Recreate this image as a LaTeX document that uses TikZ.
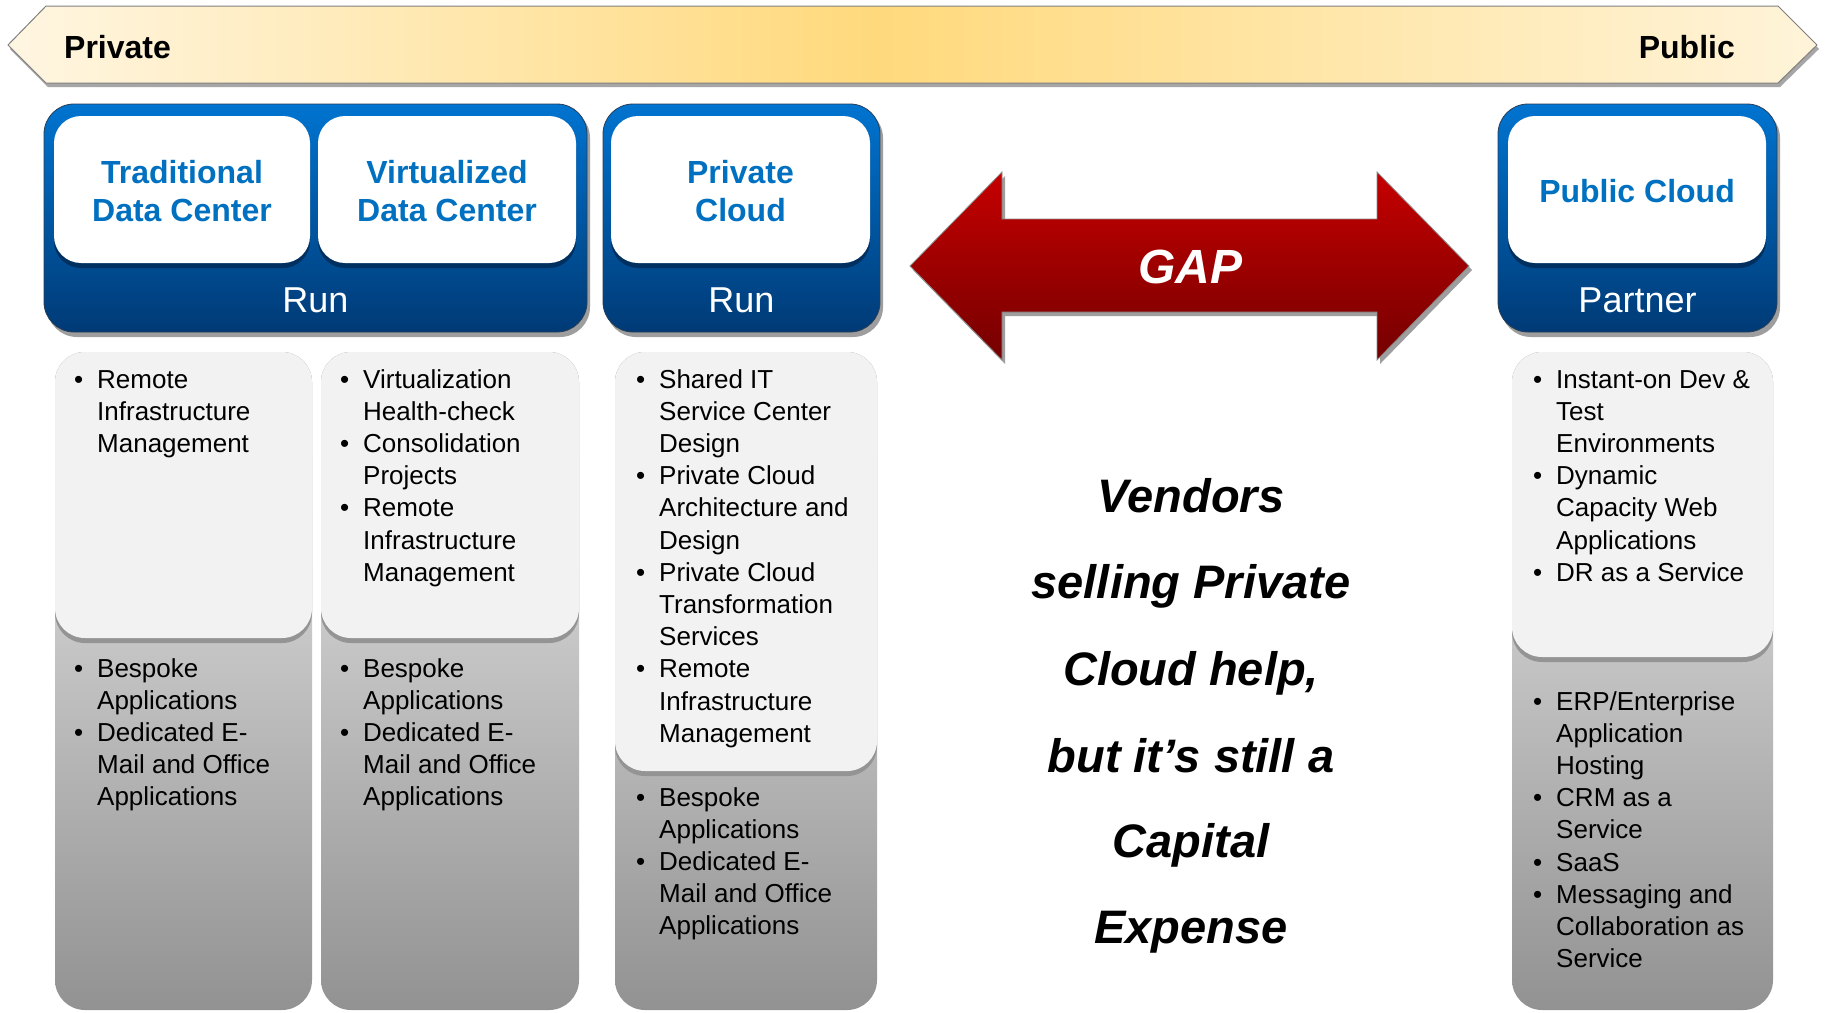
\documentclass[tikz,border=0pt]{standalone}
\usepackage{fontspec}
\setmainfont{Liberation Sans}
\usetikzlibrary{shadings}
\definecolor{bluetop}{HTML}{0074D0}
\definecolor{bluebot}{HTML}{003A76}
\definecolor{blueline}{HTML}{2A3E55}
\definecolor{navyshadow}{HTML}{00305F}
\definecolor{titleblue}{HTML}{0070C0}
\definecolor{panelgrey}{HTML}{F2F2F2}
\definecolor{coltop}{HTML}{EEEEEE}
\definecolor{colbot}{HTML}{929292}
\definecolor{redtop}{HTML}{C60000}
\definecolor{redbot}{HTML}{740000}
\definecolor{bnA}{HTML}{FFF6E2}
\definecolor{bnB}{HTML}{FFD97C}
\definecolor{bnC}{HTML}{FFF4DA}
\pgfdeclarehorizontalshading{bannershade}{100bp}{color(0bp)=(bnA); color(25bp)=(bnA); color(49bp)=(bnB); color(75bp)=(bnC); color(100bp)=(bnC)}
\newenvironment{blist}{\begin{tabular}[t]{@{}p{23pt}@{}l@{}}}{\end{tabular}}
\tikzset{
  shadowshape/.style={fill=black!38},
  bluebox/.style={shade, top color=bluetop, bottom color=bluebot, draw=blueline, line width=0.8pt, rounded corners=30pt},
  whitebox/.style={fill=white, rounded corners=27pt},
  whiteshadow/.style={fill=navyshadow, rounded corners=27pt},
  column/.style={shade, top color=coltop, bottom color=colbot, rounded corners=30pt},
  panelshadow/.style={fill=black!42, rounded corners=30pt},
  panel/.style={fill=panelgrey, rounded corners=30pt},
  title/.style={font=\fontsize{32}{38}\selectfont\bfseries, text=titleblue, inner sep=0pt, anchor=base},
  runlabel/.style={font=\fontsize{36}{40}\selectfont, text=white, inner sep=0pt, anchor=base},
  bannertext/.style={font=\fontsize{32}{38}\selectfont\bfseries, text=black, inner sep=0pt},
  listtext/.style={font=\fontsize{26}{32.2}\selectfont, text=black, inner sep=0pt, anchor=base west},
  bigtext/.style={font=\fontsize{47}{56}\selectfont\bfseries\itshape, text=black, inner sep=0pt, anchor=base}
}
\begin{document}
\begin{tikzpicture}[x=1pt,y=-1pt]
\path[use as bounding box, fill=white] (0,0) rectangle (1827,1012);

% banner
\fill[black!35] (10,49) -- (48,10) -- (1780,10) -- (1819,49) -- (1780,87) -- (48,87) -- cycle;
\path[shade, shading=bannershade, draw=black!50, line width=1pt] (8,45) -- (46,6) -- (1778,6) -- (1817,45) -- (1778,83) -- (46,83) -- cycle;
\node[bannertext, anchor=base west] (private) at (64,58) {Private};
\node[bannertext, anchor=base east] (public) at (1735,58) {Public};

% blue boxes
\fill[shadowshape, rounded corners=30pt] (47,108) rectangle (590,337);
\fill[shadowshape, rounded corners=30pt] (606,108) rectangle (883,337);
\fill[shadowshape, rounded corners=30pt] (1501,108) rectangle (1780,337);
\path[bluebox] (44,104) rectangle (587,332);
\path[bluebox] (603,104) rectangle (880,332);
\path[bluebox] (1498,104) rectangle (1777,332);

\fill[whiteshadow] (54,120) rectangle (310,268);
\fill[whiteshadow] (318,120) rectangle (576,268);
\fill[whiteshadow] (611,120) rectangle (870,268);
\fill[whiteshadow] (1508,120) rectangle (1766,268);
\fill[whitebox] (54,116) rectangle (310,263);
\fill[whitebox] (318,116) rectangle (576,263);
\fill[whitebox] (611,116) rectangle (870,263);
\fill[whitebox] (1508,116) rectangle (1766,263);

\node[title] (trad1) at (182,183) {Traditional};
\node[title] (trad2) at (182,221) {Data Center};
\node[title] (virt1) at (447,183) {Virtualized};
\node[title] (virt2) at (447,221) {Data Center};
\node[title] (priv1) at (740.5,183) {Private};
\node[title] (priv2) at (740.5,221) {Cloud};
\node[title] (pub1) at (1637,202) {Public Cloud};

\node[runlabel] (run1) at (315.5,312) {Run};
\node[runlabel] (run2) at (741.5,312) {Run};
\node[runlabel] (partner) at (1637.5,312) {Partner};

% GAP arrow
\fill[shadowshape] (913,270) -- (1005,176) -- (1005,223) -- (1380,223) -- (1380,176) -- (1472,270) -- (1380,364) -- (1380,316) -- (1005,316) -- (1005,364) -- cycle;
\path[shade, top color=redtop, bottom color=redbot, draw=black!45, line width=0.8pt] (910,266) -- (1002,172) -- (1002,219) -- (1377,219) -- (1377,172) -- (1469,266) -- (1377,360) -- (1377,312) -- (1002,312) -- (1002,360) -- cycle;
\node[font=\fontsize{48}{56}\selectfont\bfseries\itshape, text=white, inner sep=0pt, anchor=base] (gap) at (1190,283) {GAP};

% columns
\path[column] (55,352) rectangle (312,1010);
\path[column] (321,352) rectangle (579,1010);
\path[column] (615,352) rectangle (877,1010);
\path[column] (1512,352) rectangle (1773,1010);

\fill[panelshadow] (55,352) rectangle (312,643);
\fill[panelshadow] (321,352) rectangle (579,643);
\fill[panelshadow] (615,352) rectangle (877,776);
\fill[panelshadow] (1512,352) rectangle (1773,662);
\fill[panel] (55,352) rectangle (312,638);
\fill[panel] (321,352) rectangle (579,638);
\fill[panel] (615,352) rectangle (877,771);
\fill[panel] (1512,352) rectangle (1773,657);

% lists
\node[listtext] (c1top) at (74,388) {\begin{blist}
\textbullet & Remote\\ & Infrastructure\\ & Management
\end{blist}};
\node[listtext] (c1bot) at (74,677) {\begin{blist}
\textbullet & Bespoke\\ & Applications\\
\textbullet & Dedicated E-\\ & Mail and Office\\ & Applications
\end{blist}};
\node[listtext] (c2top) at (340,388) {\begin{blist}
\textbullet & Virtualization\\ & Health-check\\
\textbullet & Consolidation\\ & Projects\\
\textbullet & Remote\\ & Infrastructure\\ & Management
\end{blist}};
\node[listtext] (c2bot) at (340,677) {\begin{blist}
\textbullet & Bespoke\\ & Applications\\
\textbullet & Dedicated E-\\ & Mail and Office\\ & Applications
\end{blist}};
\node[listtext] (c3top) at (636,388) {\begin{blist}
\textbullet & Shared IT\\ & Service Center\\ & Design\\
\textbullet & Private Cloud\\ & Architecture and\\ & Design\\
\textbullet & Private Cloud\\ & Transformation\\ & Services\\
\textbullet & Remote\\ & Infrastructure\\ & Management
\end{blist}};
\node[listtext] (c3bot) at (636,806) {\begin{blist}
\textbullet & Bespoke\\ & Applications\\
\textbullet & Dedicated E-\\ & Mail and Office\\ & Applications
\end{blist}};
\node[listtext] (c4top) at (1533,388) {\begin{blist}
\textbullet & Instant-on Dev \&\\ & Test\\ & Environments\\
\textbullet & Dynamic\\ & Capacity Web\\ & Applications\\
\textbullet & DR as a Service
\end{blist}};
\node[listtext] (c4bot) at (1533,710) {\begin{blist}
\textbullet & ERP/Enterprise\\ & Application\\ & Hosting\\
\textbullet & CRM as a\\ & Service\\
\textbullet & SaaS\\
\textbullet & Messaging and\\ & Collaboration as\\ & Service
\end{blist}};

% centre statement
\node[bigtext] (v1) at (1191,512) {Vendors};
\node[bigtext] (v2) at (1191,598) {selling Private};
\node[bigtext] (v3) at (1191,685) {Cloud help,};
\node[bigtext] (v4) at (1191,772) {but it’s still a};
\node[bigtext] (v5) at (1191,857) {Capital};
\node[bigtext] (v6) at (1191,943) {Expense};
\end{tikzpicture}
\end{document}
